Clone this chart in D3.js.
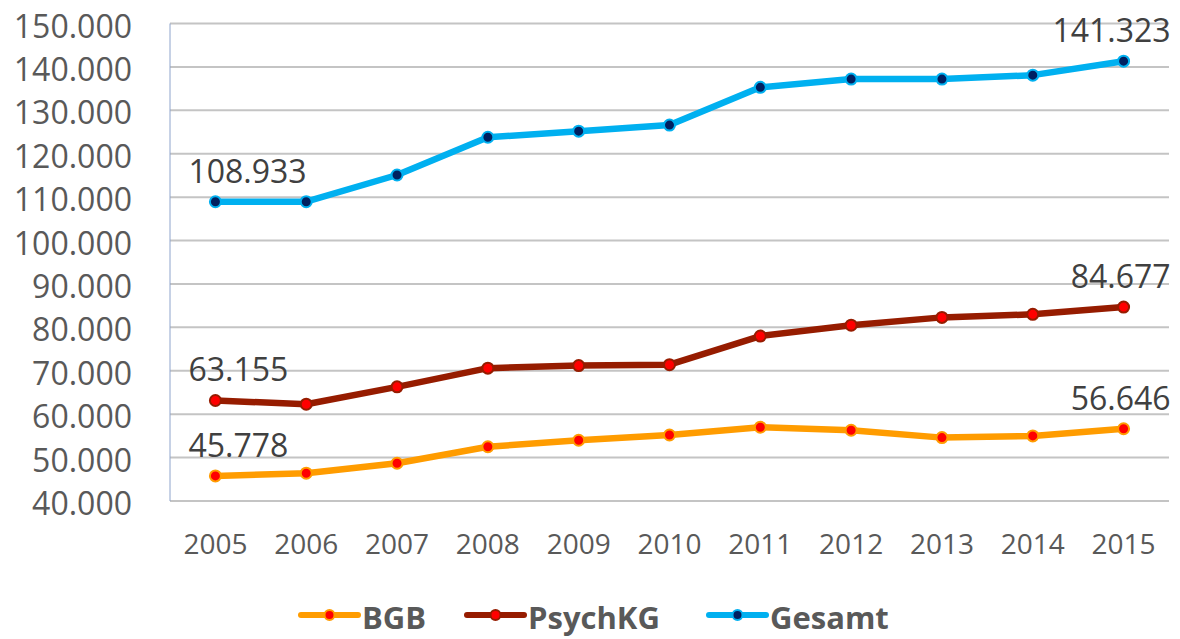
<!DOCTYPE html>
<html>
<head>
<meta charset="utf-8">
<script src="https://cdn.jsdelivr.net/npm/d3@7"></script>
<style>
  body { margin: 0; background: #fff; }
  svg { display: block; font-family: "Open Sans", sans-serif; }
</style>
</head>
<body>
<svg id="chart" width="1180" height="639"></svg>
<script>
// années (abscisse)
var years = ["2005","2006","2007","2008","2009","2010","2011","2012","2013","2014","2015"];
// séries
var bgb     = [45778, 46400, 48700, 52500, 54000, 55200, 57000, 56300, 54600, 55000, 56646];
var psychkg = [63155, 62300, 66300, 70600, 71200, 71400, 78000, 80500, 82300, 83000, 84677];
var gesamt  = [108933, 108950, 115100, 123800, 125200, 126600, 135300, 137200, 137200, 138100, 141323];
var seriesNames = ["BGB", "PsychKG", "Gesamt"];
var yTicks = [40000, 50000, 60000, 70000, 80000, 90000, 100000, 110000, 120000, 130000, 140000, 150000];

var series = [
  {name: seriesNames[0], values: bgb, line: "#ff9c00", fill: "#ff0000"},
  {name: seriesNames[1], values: psychkg, line: "#961c00", fill: "#ff0000"},
  {name: seriesNames[2], values: gesamt, line: "#00b0f0", fill: "#002060"}
];

// format allemand : 108.933
var de = d3.formatLocale({decimal: ",", thousands: ".", grouping: [3], currency: ["", "€"]});
var fmt = de.format(",d");

var svg = d3.select("#chart");
var margin = {left: 170, right: 1169, top: 23.5, bottom: 501};

var xScale = d3.scalePoint().domain(years).range([margin.left, margin.right]).padding(0.5);
var yScale = d3.scaleLinear().domain([40000, 150000]).range([margin.bottom, margin.top]);

// lignes de grille
svg.append("g").selectAll("line")
  .data(yTicks)
  .enter().append("line")
  .attr("x1", margin.left).attr("x2", margin.right)
  .attr("y1", d => yScale(d)).attr("y2", d => yScale(d))
  .style("stroke", "#c4c4c4")
  .style("stroke-width", 2);

// axe vertical
svg.append("line")
  .attr("x1", margin.left).attr("x2", margin.left)
  .attr("y1", yScale(150000)).attr("y2", yScale(40000))
  .style("stroke", "#8ea4cc")
  .style("stroke-width", 1);

// étiquettes ordonnée
svg.append("g").selectAll("text")
  .data(yTicks)
  .enter().append("text")
  .attr("x", 132)
  .attr("y", d => yScale(d) + 14)
  .style("text-anchor", "end")
  .style("font-size", "32px")
  .style("fill", "#595959")
  .text(d => fmt(d));

// étiquettes abscisse
svg.append("g").selectAll("text")
  .data(years)
  .enter().append("text")
  .attr("x", d => xScale(d))
  .attr("y", 554)
  .style("text-anchor", "middle")
  .style("font-size", "28px")
  .style("fill", "#595959")
  .text(d => d);

var line = d3.line()
  .x((d, i) => xScale(years[i]))
  .y(d => yScale(d));

series.forEach(function(s){
  svg.append("path")
    .datum(s.values)
    .attr("d", line)
    .style("fill", "none")
    .style("stroke", s.line)
    .style("stroke-width", 6.5)
    .style("stroke-linejoin", "round");

  svg.append("g").selectAll("circle")
    .data(s.values)
    .enter().append("circle")
    .attr("cx", (d, i) => xScale(years[i]))
    .attr("cy", d => yScale(d))
    .attr("r", 5.5)
    .style("fill", s.fill)
    .style("stroke", s.line)
    .style("stroke-width", 2);

  // étiquettes de données : première et dernière valeur
  var n = s.values.length;
  svg.append("text")
    .attr("x", xScale(years[0]) - 27)
    .attr("y", yScale(s.values[0]) - 19)
    .style("text-anchor", "start")
    .style("font-size", "32px")
    .style("fill", "#404040")
    .text(fmt(s.values[0]));
  svg.append("text")
    .attr("x", xScale(years[n - 1]) + 47)
    .attr("y", yScale(s.values[n - 1]) - 19)
    .style("text-anchor", "end")
    .style("font-size", "32px")
    .style("fill", "#404040")
    .text(fmt(s.values[n - 1]));
});

// légende
var legendX = [301, 467, 709];
var legend = svg.append("g").selectAll("g")
  .data(series)
  .enter().append("g")
  .attr("transform", (d, i) => `translate(${legendX[i]}, 615)`);

legend.append("line")
  .attr("x1", 0).attr("x2", 57)
  .style("stroke", d => d.line)
  .style("stroke-width", 6)
  .style("stroke-linecap", "round");
legend.append("circle")
  .attr("cx", 28.5).attr("r", 5)
  .style("fill", d => d.fill)
  .style("stroke", d => d.line)
  .style("stroke-width", 2);
legend.append("text")
  .attr("x", 61)
  .attr("y", 14)
  .style("font-size", "31px")
  .style("font-weight", "bold")
  .style("fill", "#595959")
  .text(d => d.name);
</script>
</body>
</html>
